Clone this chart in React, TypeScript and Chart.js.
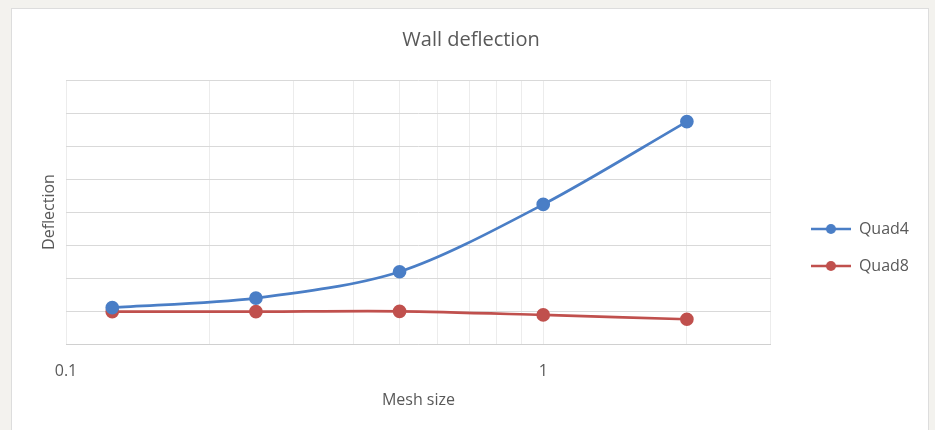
import React, { useEffect, useRef } from "react";
import { Chart, registerables } from "chart.js";

Chart.register(...registerables);

const MESH_SIZES = [0.125, 0.25, 0.5, 1, 2];
const QUAD4 = [1.1, 1.39, 2.19, 4.23, 6.74];
const QUAD8 = [0.98, 0.98, 0.99, 0.88, 0.75];
const X_TICKS = [0.1, 0.2, 0.3, 0.4, 0.5, 0.6, 0.7, 0.8, 0.9, 1, 2, 3];
const X_LABELED = [0.1, 1];
const SERIES_NAMES = ["Quad4", "Quad8"];
const TITLE = "Wall deflection";
const X_TITLE = "Mesh size";
const Y_TITLE = "Deflection";

const BLUE = "#4a7ec6";
const RED = "#c0504d";
const TEXT = "#595959";
const FONT = "'Open Sans', 'Noto Sans', sans-serif";

function legendMarker(color: string): HTMLCanvasElement {
  const c = document.createElement("canvas");
  c.width = 40;
  c.height = 14;
  const ctx = c.getContext("2d")!;
  ctx.strokeStyle = color;
  ctx.lineWidth = 2.5;
  ctx.beginPath();
  ctx.moveTo(0, 7);
  ctx.lineTo(40, 7);
  ctx.stroke();
  ctx.fillStyle = color;
  ctx.beginPath();
  ctx.arc(20, 7, 5, 0, Math.PI * 2);
  ctx.fill();
  return c;
}

export default function App() {
  const ref = useRef<HTMLCanvasElement | null>(null);

  useEffect(() => {
    if (!ref.current) return;
    const markers = [legendMarker(BLUE), legendMarker(RED)];
    const chart = new Chart(ref.current, {
      type: "line",
      data: {
        datasets: [
          {
            label: SERIES_NAMES[0],
            data: MESH_SIZES.map((x, i) => ({ x, y: QUAD4[i] })),
            borderColor: BLUE,
            backgroundColor: BLUE,
            borderWidth: 2.7,
            pointRadius: 5.5,
            pointHoverRadius: 5.5,
            tension: 0.3,
          },
          {
            label: SERIES_NAMES[1],
            data: MESH_SIZES.map((x, i) => ({ x, y: QUAD8[i] })),
            borderColor: RED,
            backgroundColor: RED,
            borderWidth: 2.7,
            pointRadius: 5.5,
            pointHoverRadius: 5.5,
            tension: 0.3,
          },
        ],
      },
      options: {
        responsive: false,
        animation: false,
        devicePixelRatio: 1,
        layout: { padding: { left: 23, right: 16, top: 0, bottom: 20 } },
        plugins: {
          tooltip: { enabled: false },
          title: {
            display: true,
            text: TITLE,
            color: TEXT,
            font: { family: FONT, size: 20, weight: "normal" },
            padding: { top: 28, bottom: 28 },
          },
          legend: {
            display: true,
            position: "right",
            align: "start",
            fullSize: false,
            title: {
              display: true,
              text: " ",
              padding: { top: 100.8, bottom: 0 },
              font: { family: FONT, size: 16 },
            },
            labels: {
              color: TEXT,
              font: { family: FONT, size: 16 },
              usePointStyle: true,
              pointStyleWidth: 40,
              padding: 21,
              generateLabels: (c: any) => {
                const items = Chart.defaults.plugins.legend.labels.generateLabels(c);
                items.forEach((it: any, i: number) => {
                  it.pointStyle = markers[i];
                });
                return items;
              },
            },
          },
        },
        scales: {
          x: {
            type: "logarithmic",
            min: 0.1,
            max: 3,
            afterBuildTicks: (scale: any) => {
              scale.ticks = X_TICKS.map((v) => ({ value: v }));
            },
            afterFit: (scale: any) => {
              scale.height = 66;
            },
            ticks: {
              autoSkip: false,
              maxRotation: 0,
              color: TEXT,
              font: { family: FONT, size: 16 },
              padding: 18,
              callback: (v: any) => (X_LABELED.includes(Number(v)) ? String(v) : ""),
            },
            grid: { color: "#ececec", drawTicks: false },
            border: { display: true, color: "#d0d0d0" },
            title: {
              display: true,
              text: X_TITLE,
              color: TEXT,
              font: { family: FONT, size: 16 },
              padding: { top: 0, bottom: 0 },
            },
          },
          y: {
            type: "linear",
            min: 0,
            max: 8,
            ticks: { display: false, stepSize: 1 },
            afterFit: (scale: any) => {
              scale.width = 43;
            },
            grid: { color: "#d9d9d9", drawTicks: false },
            border: { display: false },
            title: {
              display: true,
              text: Y_TITLE,
              color: TEXT,
              font: { family: FONT, size: 16 },
              padding: { top: 17, bottom: 0 },
            },
          },
          yr: {
            type: "linear",
            position: "right",
            min: 0,
            max: 8,
            ticks: { display: false },
            grid: { display: false, drawTicks: false },
            border: { display: false },
            afterFit: (scale: any) => {
              scale.width = 19;
            },
          },
        },
      },
    } as any);
    return () => chart.destroy();
  }, []);

  return (
    <div style={{ position: "absolute", left: 0, top: 0, width: 935, height: 430, background: "#f3f2ee", overflow: "hidden" }}>
      <div
        style={{
          position: "absolute",
          left: 11,
          top: 8,
          width: 918,
          height: 430,
          background: "#ffffff",
          border: "1px solid #dddddd",
          boxSizing: "border-box",
        }}
      />
      <canvas ref={ref} width={935} height={430} style={{ position: "absolute", left: 0, top: 0 }} />
    </div>
  );
}
